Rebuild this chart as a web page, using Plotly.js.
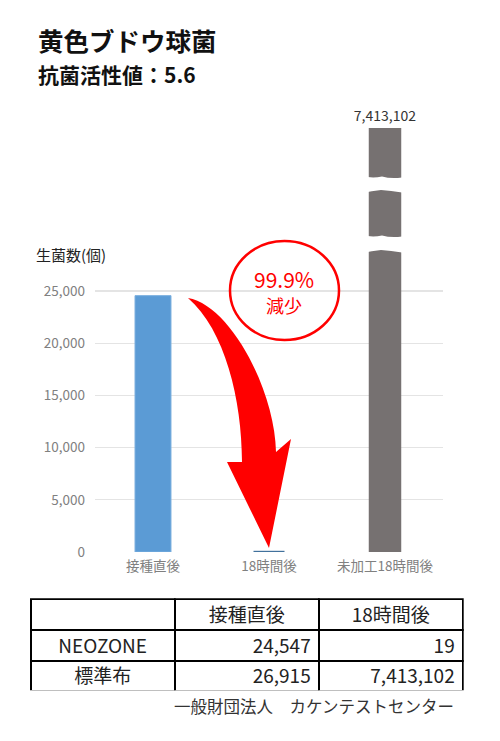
<!DOCTYPE html>
<html>
<head>
<meta charset="utf-8">
<script src="https://cdn.plot.ly/plotly-3.0.1.min.js"></script>
<style>
    html, body { margin: 0; padding: 0; background: #fff; }
    #chart { width: 500px; height: 741px; }
</style>
</head>
<body>
<div id="chart"></div>
<script>
const categories = ['接種直後', '18時間後', '未加工18時間後'];
const neozone = [24547, 19];          // NEOZONE: 接種直後, 18時間後
const standard = [26915, 7413102];    // 標準布: 接種直後, 18時間後
const yTicks = [0, 5000, 10000, 15000, 20000, 25000];
const tableHeader = ['', '接種直後', '18時間後'];
const tableRows = ['NEOZONE', '標準布'];

const FONT = '"Noto Sans CJK JP", "Noto Sans", sans-serif';
const W = 500, H = 741;

// pixel -> paper (margins are 0, so paper == whole figure)
const px = (x) => x / W;
const py = (y) => 1 - y / H;
const pt = (x, y) => `${px(x).toFixed(4)},${py(y).toFixed(4)}`;

const start = () => {
    const data = [
        {
            x: [categories[0], categories[1]],
            y: [neozone[0], neozone[1]],
            type: 'bar',
            width: [0.31, 0.25],
            marker: {
                color: ['#5b9bd5', '#41719c'],
                line: { color: ['#7aaede', '#41719c'], width: [1, 2] }
            },
            hoverinfo: 'skip'
        },
        {
            x: [categories[2]],
            y: [standard[1]],
            yaxis: 'y2',
            type: 'bar',
            width: 0.28,
            marker: { color: '#767171' },
            text: [standard[1]],
            texttemplate: '%{y:,}',
            textposition: 'outside',
            constraintext: 'none',
            cliponaxis: false,
            textfont: { family: FONT, size: 14, color: '#333' },
            hoverinfo: 'skip'
        },
        {
            type: 'table',
            domain: { x: [px(30.7), px(463.3)], y: [py(691), py(599.3)] },
            columnwidth: [1, 1, 1],
            header: {
                values: tableHeader,
                height: 31,
                align: 'center',
                line: { color: '#000', width: 2 },
                fill: { color: '#fff' },
                font: { family: FONT, size: 19, color: '#222' }
            },
            cells: {
                values: [tableRows, [neozone[0], standard[0]], [neozone[1], standard[1]]],
                format: ['', ',d', ',d'],
                height: 30.5,
                align: ['center', 'right', 'right'],
                line: { color: '#000', width: 2 },
                fill: { color: '#fff' },
                font: { family: FONT, size: 19, color: '#222' }
            }
        }
    ];

    // curved red arrow from the first bar down to the second
    const arrowPath = 'M' + pt(188, 298) +
        ' C' + pt(230, 305) + ' ' + pt(275, 390) + ' ' + pt(276, 452) +
        ' L' + pt(291, 439) + ' L' + pt(269, 548) + ' L' + pt(227, 462) + ' L' + pt(242, 462) +
        ' C' + pt(242, 400) + ' ' + pt(225, 330) + ' ' + pt(188, 298) + ' Z';

    // white wavy gaps that break the tall bar
    const gap = (top, bot) => 'M' + pt(362, top) +
        ' Q' + pt(372, top + 2.5) + ' ' + pt(382, top + 0.5) +
        ' Q' + pt(391, top + 3) + ' ' + pt(402, top + 1.5) +
        ' L' + pt(402, bot) +
        ' Q' + pt(391, bot - 2) + ' ' + pt(381, bot - 2.5) +
        ' Q' + pt(372, bot - 1.5) + ' ' + pt(362, bot + 0.5) + ' Z';

    const layout = {
        width: W,
        height: H,
        margin: { l: 0, r: 0, t: 0, b: 0 },
        paper_bgcolor: '#fff',
        plot_bgcolor: '#fff',
        showlegend: false,
        barmode: 'overlay',
        font: { family: FONT },
        xaxis: {
            domain: [px(95), px(443)],
            type: 'category',
            showgrid: false,
            showline: false,
            zeroline: false,
            ticks: '',
            ticklabelstandoff: 4,
            tickfont: { family: FONT, size: 13.5, color: '#808080' },
            fixedrange: true
        },
        yaxis: {
            domain: [py(552), py(128)],
            range: [0, 40600],
            tickvals: yTicks,
            tickformat: ',d',
            showgrid: true,
            gridcolor: '#e4e4e4',
            gridwidth: 1.2,
            zeroline: false,
            showline: false,
            ticks: '',
            ticklabelstandoff: 9,
            tickfont: { family: FONT, size: 13.5, color: '#808080' },
            fixedrange: true
        },
        yaxis2: {
            overlaying: 'y',
            range: [0, standard[1]],
            visible: false,
            fixedrange: true
        },
        shapes: [
            { type: 'path', xref: 'paper', yref: 'paper', path: gap(176, 192.5), fillcolor: '#fff', line: { width: 0 } },
            { type: 'path', xref: 'paper', yref: 'paper', path: gap(235, 252.5), fillcolor: '#fff', line: { width: 0 } },
            { type: 'path', xref: 'paper', yref: 'paper', path: arrowPath, fillcolor: '#ff0000', line: { width: 0 } },
            {
                type: 'circle', xref: 'paper', yref: 'paper',
                x0: px(230), x1: px(339), y0: py(340), y1: py(241),
                line: { color: '#ff0000', width: 2.5 }
            }
        ],
        annotations: [
            {
                text: '<b>黄色ブドウ球菌</b>', xref: 'paper', yref: 'paper',
                x: px(36), y: py(40), xanchor: 'left', yanchor: 'middle', showarrow: false,
                font: { family: FONT, size: 25.5, color: '#111' }
            },
            {
                text: '<b>抗菌活性値：5.6</b>', xref: 'paper', yref: 'paper',
                x: px(36), y: py(74), xanchor: 'left', yanchor: 'middle', showarrow: false,
                font: { family: FONT, size: 21, color: '#111' }
            },
            {
                text: '生菌数(個)', xref: 'paper', yref: 'paper',
                x: px(34), y: py(254), xanchor: 'left', yanchor: 'middle', showarrow: false,
                font: { family: FONT, size: 15, color: '#222' }
            },
            {
                text: '99.9%', xref: 'paper', yref: 'paper',
                x: px(284), y: py(279), xanchor: 'center', yanchor: 'middle', showarrow: false,
                font: { family: FONT, size: 21, color: '#ff0000' }
            },
            {
                text: '減少', xref: 'paper', yref: 'paper',
                x: px(284), y: py(305), xanchor: 'center', yanchor: 'middle', showarrow: false,
                font: { family: FONT, size: 18, color: '#ff0000' }
            },
            {
                text: '一般財団法人　カケンテストセンター', xref: 'paper', yref: 'paper',
                x: px(456), y: py(706), xanchor: 'right', yanchor: 'middle', showarrow: false,
                font: { family: FONT, size: 16.5, color: '#333' }
            }
        ]
    };

    Plotly.newPlot('chart', data, layout, { displayModeBar: false, staticPlot: true });
}

start();
</script>
</body>
</html>
